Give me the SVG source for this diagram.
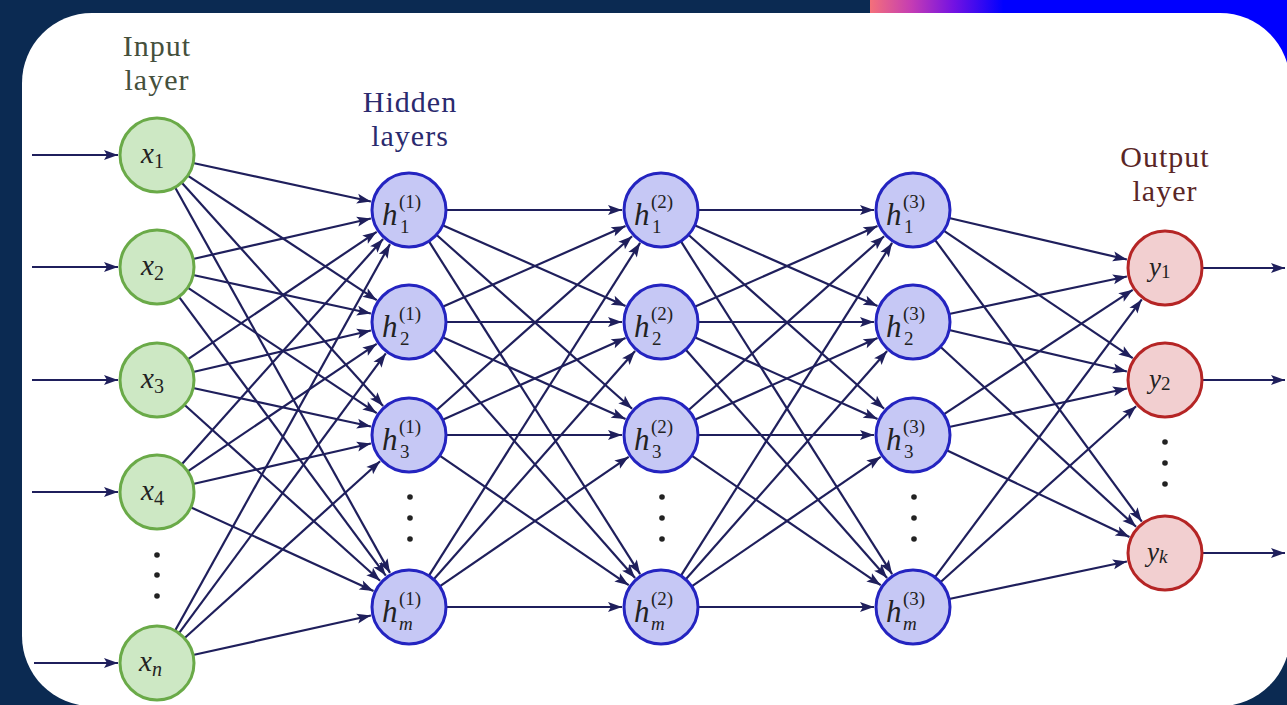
<svg xmlns="http://www.w3.org/2000/svg" width="1287" height="705" viewBox="0 0 1287 705">
<defs>
<linearGradient id="bar" x1="870" y1="0" x2="1287" y2="0" gradientUnits="userSpaceOnUse">
<stop offset="0" stop-color="#f4707a"/>
<stop offset="0.1" stop-color="#c43cb4"/>
<stop offset="0.2" stop-color="#7412e2"/>
<stop offset="0.32" stop-color="#0000ff"/>
<stop offset="1" stop-color="#0000ff"/>
</linearGradient>
<marker id="ah" markerUnits="userSpaceOnUse" markerWidth="16" markerHeight="12" refX="14" refY="5" orient="auto" overflow="visible">
<path d="M0,0 L14,5 L0,10 L3,5 Z" fill="#1f1f5c"/>
</marker>
<style>
.c line{stroke:#1f1f5c;stroke-width:2.2;marker-end:url(#ah)}
.in circle{fill:#cde8c4;stroke:#6aaa48;stroke-width:3}
.hid circle{fill:#c6c8f5;stroke:#2424c0;stroke-width:3}
.out circle{fill:#f2cfd0;stroke:#b52525;stroke-width:3}
text{font-family:"Liberation Serif","Times New Roman",serif}
.m{font-style:italic;fill:#222}
.n{font-style:normal}
.lbl{font-size:30px;letter-spacing:1px;text-anchor:middle}
.dots circle{fill:#222}
</style>
</defs>
<rect x="0" y="0" width="1287" height="705" fill="#0b2a52"/>
<rect x="870" y="0" width="417" height="90" fill="url(#bar)"/>
<rect x="22" y="13" width="1268" height="693" rx="70" ry="70" fill="#ffffff"/>

<g id="labels">
<text class="lbl" fill="#45503c" x="157" y="56">Input</text>
<text class="lbl" fill="#45503c" x="157" y="90">layer</text>
<text class="lbl" fill="#2a2a6e" x="410" y="112">Hidden</text>
<text class="lbl" fill="#2a2a6e" x="410" y="146">layers</text>
<text class="lbl" fill="#5a2626" x="1165" y="167">Output</text>
<text class="lbl" fill="#5a2626" x="1165" y="201">layer</text>
</g>

<g id="connectors" class="c">
<line x1="32" y1="155" x2="118" y2="155"/>
<line x1="32" y1="267" x2="118" y2="267"/>
<line x1="32" y1="380" x2="118" y2="380"/>
<line x1="32" y1="492" x2="118" y2="492"/>
<line x1="34" y1="663" x2="118" y2="663"/>
<line x1="1203" y1="268" x2="1285" y2="268"/>
<line x1="1203" y1="380" x2="1285" y2="380"/>
<line x1="1203" y1="553" x2="1285" y2="553"/>

<line x1="193.1" y1="163" x2="370.9" y2="201.5"/>
<line x1="187.7" y1="175.7" x2="376.7" y2="300.2"/>
<line x1="181.6" y1="182.6" x2="383.1" y2="405.9"/>
<line x1="175" y1="187.3" x2="390" y2="572.9"/>
<line x1="193.1" y1="259" x2="370.9" y2="218.5"/>
<line x1="193.1" y1="275" x2="370.9" y2="313.5"/>
<line x1="187.7" y1="287.7" x2="376.7" y2="413.2"/>
<line x1="179" y1="296.8" x2="385.8" y2="575.6"/>
<line x1="187.7" y1="359.3" x2="376.7" y2="231.8"/>
<line x1="193.1" y1="372" x2="370.9" y2="330.5"/>
<line x1="193.1" y1="388" x2="370.9" y2="426.5"/>
<line x1="184.4" y1="404.8" x2="380.1" y2="580.8"/>
<line x1="181.6" y1="464.4" x2="383.1" y2="239.1"/>
<line x1="187.7" y1="471.3" x2="376.7" y2="343.8"/>
<line x1="193.1" y1="484" x2="370.9" y2="443.5"/>
<line x1="190.7" y1="507.3" x2="373.5" y2="590.9"/>
<line x1="175" y1="630.7" x2="390" y2="244.1"/>
<line x1="179" y1="633.2" x2="385.8" y2="353.4"/>
<line x1="184.4" y1="638.2" x2="380.1" y2="461.2"/>
<line x1="193.1" y1="655" x2="370.9" y2="615.5"/>

<line x1="446" y1="210" x2="622" y2="210"/>
<line x1="442.7" y1="225.3" x2="625.5" y2="305.9"/>
<line x1="436.4" y1="234.8" x2="632.1" y2="408.8"/>
<line x1="428.8" y1="241.2" x2="640.1" y2="574.1"/>
<line x1="442.7" y1="306.7" x2="625.5" y2="226.1"/>
<line x1="446" y1="322" x2="622" y2="322"/>
<line x1="442.7" y1="337.3" x2="625.5" y2="418.9"/>
<line x1="433.6" y1="349.6" x2="635.1" y2="577.9"/>
<line x1="436.4" y1="410.2" x2="632.1" y2="236.2"/>
<line x1="442.7" y1="419.7" x2="625.5" y2="338.1"/>
<line x1="446" y1="435" x2="622" y2="435"/>
<line x1="439.7" y1="455.7" x2="628.7" y2="585.2"/>
<line x1="428.8" y1="575.8" x2="640.1" y2="242.9"/>
<line x1="433.6" y1="579.4" x2="635.1" y2="351.1"/>
<line x1="439.7" y1="586.3" x2="628.7" y2="456.8"/>
<line x1="446" y1="607" x2="622" y2="607"/>

<line x1="698" y1="210" x2="874" y2="210"/>
<line x1="694.7" y1="225.3" x2="877.5" y2="305.9"/>
<line x1="688.4" y1="234.8" x2="884.1" y2="408.8"/>
<line x1="680.8" y1="241.2" x2="892.1" y2="574.1"/>
<line x1="694.7" y1="306.7" x2="877.5" y2="226.1"/>
<line x1="698" y1="322" x2="874" y2="322"/>
<line x1="694.7" y1="337.3" x2="877.5" y2="418.9"/>
<line x1="685.6" y1="349.6" x2="887.1" y2="577.9"/>
<line x1="688.4" y1="410.2" x2="884.1" y2="236.2"/>
<line x1="694.7" y1="419.7" x2="877.5" y2="338.1"/>
<line x1="698" y1="435" x2="874" y2="435"/>
<line x1="691.7" y1="455.7" x2="880.7" y2="585.2"/>
<line x1="680.8" y1="575.8" x2="892.1" y2="242.9"/>
<line x1="685.6" y1="579.4" x2="887.1" y2="351.1"/>
<line x1="691.7" y1="586.3" x2="880.7" y2="456.8"/>
<line x1="698" y1="607" x2="874" y2="607"/>

<line x1="949.1" y1="218" x2="1126.9" y2="259.5"/>
<line x1="943.7" y1="230.7" x2="1132.7" y2="358.2"/>
<line x1="935" y1="239.8" x2="1141.8" y2="521.6"/>
<line x1="949.1" y1="314" x2="1126.9" y2="276.5"/>
<line x1="949.1" y1="330" x2="1126.9" y2="371.5"/>
<line x1="940.4" y1="346.8" x2="1136.1" y2="526.8"/>
<line x1="943.7" y1="414.3" x2="1132.7" y2="289.8"/>
<line x1="949.1" y1="427" x2="1126.9" y2="388.5"/>
<line x1="946.7" y1="450.3" x2="1129.5" y2="536.9"/>
<line x1="935" y1="577.2" x2="1141.8" y2="299.4"/>
<line x1="940.4" y1="582.2" x2="1136.1" y2="406.2"/>
<line x1="949.1" y1="599" x2="1126.9" y2="561.5"/>
</g>

<g id="dots" class="dots">
<circle cx="157" cy="555" r="2.8"/><circle cx="157" cy="575" r="2.8"/><circle cx="157" cy="596" r="2.8"/>
<circle cx="410" cy="497" r="2.8"/><circle cx="410" cy="518" r="2.8"/><circle cx="410" cy="539" r="2.8"/>
<circle cx="662" cy="497" r="2.8"/><circle cx="662" cy="518" r="2.8"/><circle cx="662" cy="539" r="2.8"/>
<circle cx="914" cy="497" r="2.8"/><circle cx="914" cy="518" r="2.8"/><circle cx="914" cy="539" r="2.8"/>
<circle cx="1165" cy="442" r="2.8"/><circle cx="1165" cy="463" r="2.8"/><circle cx="1165" cy="484" r="2.8"/>
</g>

<g id="x1" class="in"><circle cx="157" cy="155" r="37"/><text class="m" font-size="29" x="141" y="163">x<tspan class="n" font-size="20" dy="5">1</tspan></text></g>
<g id="x2" class="in"><circle cx="157" cy="267" r="37"/><text class="m" font-size="29" x="141" y="275">x<tspan class="n" font-size="20" dy="5">2</tspan></text></g>
<g id="x3" class="in"><circle cx="157" cy="380" r="37"/><text class="m" font-size="29" x="141" y="388">x<tspan class="n" font-size="20" dy="5">3</tspan></text></g>
<g id="x4" class="in"><circle cx="157" cy="492" r="37"/><text class="m" font-size="29" x="141" y="500">x<tspan class="n" font-size="20" dy="5">4</tspan></text></g>
<g id="xn" class="in"><circle cx="157" cy="663" r="37"/><text class="m" font-size="29" x="139" y="671">x<tspan font-size="20" dy="5">n</tspan></text></g>

<g id="h1_1" class="hid"><circle cx="409" cy="210" r="37"/><text class="m" font-size="31" x="382" y="225">h</text><text class="m n" font-size="19" x="399" y="208">(1)</text><text class="m n" font-size="19" x="400" y="233">1</text></g>
<g id="h2_1" class="hid"><circle cx="409" cy="322" r="37"/><text class="m" font-size="31" x="382" y="337">h</text><text class="m n" font-size="19" x="399" y="320">(1)</text><text class="m n" font-size="19" x="400" y="345">2</text></g>
<g id="h3_1" class="hid"><circle cx="409" cy="435" r="37"/><text class="m" font-size="31" x="382" y="450">h</text><text class="m n" font-size="19" x="399" y="433">(1)</text><text class="m n" font-size="19" x="400" y="458">3</text></g>
<g id="hm_1" class="hid"><circle cx="409" cy="607" r="37"/><text class="m" font-size="31" x="382" y="622">h</text><text class="m n" font-size="19" x="399" y="605">(1)</text><text class="m" font-size="19" x="399" y="630">m</text></g>

<g id="h1_2" class="hid"><circle cx="661" cy="210" r="37"/><text class="m" font-size="31" x="634" y="225">h</text><text class="m n" font-size="19" x="651" y="208">(2)</text><text class="m n" font-size="19" x="652" y="233">1</text></g>
<g id="h2_2" class="hid"><circle cx="661" cy="322" r="37"/><text class="m" font-size="31" x="634" y="337">h</text><text class="m n" font-size="19" x="651" y="320">(2)</text><text class="m n" font-size="19" x="652" y="345">2</text></g>
<g id="h3_2" class="hid"><circle cx="661" cy="435" r="37"/><text class="m" font-size="31" x="634" y="450">h</text><text class="m n" font-size="19" x="651" y="433">(2)</text><text class="m n" font-size="19" x="652" y="458">3</text></g>
<g id="hm_2" class="hid"><circle cx="661" cy="607" r="37"/><text class="m" font-size="31" x="634" y="622">h</text><text class="m n" font-size="19" x="651" y="605">(2)</text><text class="m" font-size="19" x="651" y="630">m</text></g>

<g id="h1_3" class="hid"><circle cx="913" cy="210" r="37"/><text class="m" font-size="31" x="886" y="225">h</text><text class="m n" font-size="19" x="903" y="208">(3)</text><text class="m n" font-size="19" x="904" y="233">1</text></g>
<g id="h2_3" class="hid"><circle cx="913" cy="322" r="37"/><text class="m" font-size="31" x="886" y="337">h</text><text class="m n" font-size="19" x="903" y="320">(3)</text><text class="m n" font-size="19" x="904" y="345">2</text></g>
<g id="h3_3" class="hid"><circle cx="913" cy="435" r="37"/><text class="m" font-size="31" x="886" y="450">h</text><text class="m n" font-size="19" x="903" y="433">(3)</text><text class="m n" font-size="19" x="904" y="458">3</text></g>
<g id="hm_3" class="hid"><circle cx="913" cy="607" r="37"/><text class="m" font-size="31" x="886" y="622">h</text><text class="m n" font-size="19" x="903" y="605">(3)</text><text class="m" font-size="19" x="903" y="630">m</text></g>

<g id="y1" class="out"><circle cx="1165" cy="268" r="37"/><text class="m" font-size="27" x="1149" y="276">y<tspan class="n" font-size="19" dy="2">1</tspan></text></g>
<g id="y2" class="out"><circle cx="1165" cy="380" r="37"/><text class="m" font-size="27" x="1149" y="388">y<tspan class="n" font-size="19" dy="2">2</tspan></text></g>
<g id="yk" class="out"><circle cx="1165" cy="553" r="37"/><text class="m" font-size="27" x="1147" y="561">y<tspan font-size="19" dy="2">k</tspan></text></g>
</svg>
